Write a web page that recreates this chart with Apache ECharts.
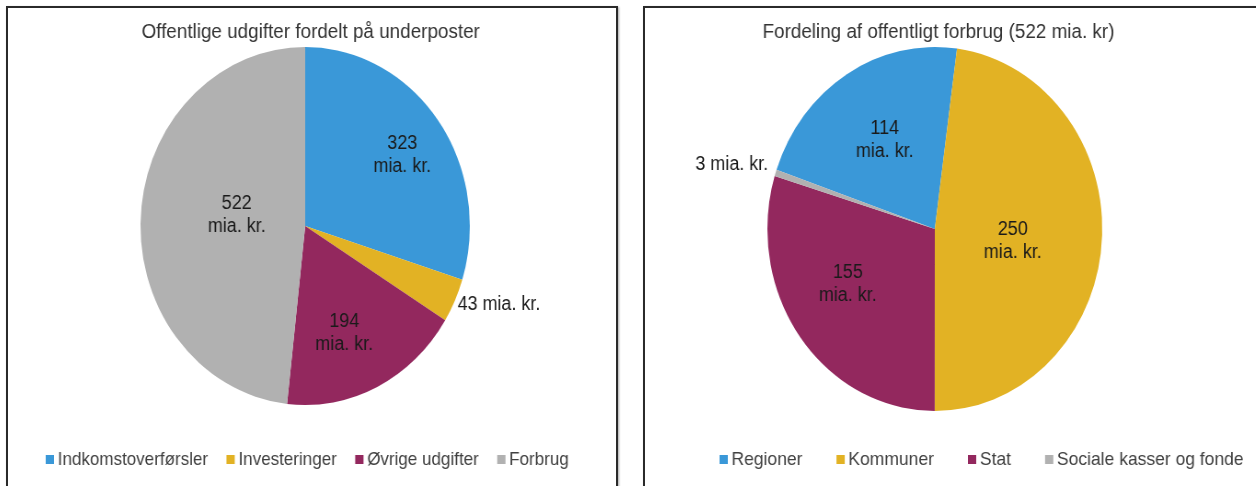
<!DOCTYPE html>
<html>
<head>
<meta charset="utf-8">
<script src="https://cdn.jsdelivr.net/npm/echarts@6/dist/echarts.min.js"></script>
<style>
    body { margin: 0; background: #fff; width: 1256px; height: 486px; overflow: hidden; position: relative; }
    .panel { position: absolute; top: 6px; height: 490px; border: 2px solid #2a2a2a; box-shadow: 1px 1px 2px rgba(0,0,0,0.35); overflow: hidden; background: #fff; }
    .chart { position: absolute; left: 0; top: 0; height: 484px; transform: scaleX(0.92); transform-origin: 0 0; }
</style>
</head>
<body>
<div class="panel" style="left:6px;width:608px;">
    <div class="chart" id="leftChart" style="width:661px;"></div>
</div>
<div class="panel" style="left:643px;width:620px;">
    <div class="chart" id="rightChart" style="width:674px;"></div>
</div>
<script>
// venstre diagram: offentlige udgifter (mia. kr.)
const udgiftNavne = ['Indkomstoverførsler', 'Investeringer', 'Øvrige udgifter', 'Forbrug'];
const udgiftVaerdier = [323, 43, 194, 522];
const udgiftFarver = ['#3a98d8', '#e2b224', '#93285e', '#b1b1b1'];

// højre diagram: fordeling af forbrug (mia. kr.)
const forbrugNavne = ['Regioner', 'Kommuner', 'Stat', 'Sociale kasser og fonde'];
const forbrugVaerdier = [114, 250, 155, 3];
const forbrugFarver = ['#3a98d8', '#e2b224', '#93285e', '#b1b1b1'];

const fontFam = '"Liberation Sans", Arial, sans-serif';

// små værdier vises udenfor lagkagen, resten indeni
const makeData = (names, values, nudges) => names.map((n, i) => {
    const small = values[i] < 50;
    return {
        name: n,
        value: values[i],
        label: small ? {
            position: 'outside',
            formatter: '{c} mia. kr.',
            offset: nudges[i]
        } : {
            position: 'inside',
            formatter: '{c}\nmia. kr.',
            offset: nudges[i]
        }
    };
});

const pieOption = (title, titleX, names, values, colors, center, radius, startAngle, nudges, legendLeft, legendGap, legendSize) => ({
    animation: false,
    color: colors,
    title: {
        text: title,
        left: titleX,
        top: 9,
        textAlign: 'center',
        textStyle: { fontFamily: fontFam, fontSize: 20.5, fontWeight: 'normal', color: '#333' }
    },
    legend: {
        data: names,
        left: legendLeft,
        top: 437,
        icon: 'rect',
        itemWidth: 9,
        itemHeight: 9,
        itemGap: legendGap,
        textStyle: { fontFamily: fontFam, fontSize: legendSize, color: '#404040', padding: [0, 0, 0, -1] }
    },
    series: [{
        type: 'pie',
        center: center,
        radius: [0, radius],
        startAngle: startAngle,
        clockwise: true,
        silent: true,
        itemStyle: { borderWidth: 0 },
        label: {
            show: true,
            fontFamily: fontFam,
            fontSize: 19.5,
            lineHeight: 23,
            color: '#1a1a1a'
        },
        labelLine: { show: false, length: 1, length2: 0 },
        data: makeData(names, values, nudges)
    }]
});

const leftChart = echarts.init(document.getElementById('leftChart'));
leftChart.setOption(pieOption(
    'Offentlige udgifter fordelt på underposter', 324,
    udgiftNavne, udgiftVaerdier, udgiftFarver,
    [323, 218], 179, 90,
    [[31, -16], [-3, 4], [2, 24], [18, -6]],
    36, 20, 18.5
));

const rightChart = echarts.init(document.getElementById('rightChart'));
rightChart.setOption(pieOption(
    'Fordeling af offentligt forbrug (522 mia. kr)', 314,
    forbrugNavne, forbrugVaerdier, forbrugFarver,
    [315, 221], 182, 161,
    [[-5, -9], [-9, 6], [-19, -1], [-2, -8]],
    76, 37, 19
));
</script>
</body>
</html>
